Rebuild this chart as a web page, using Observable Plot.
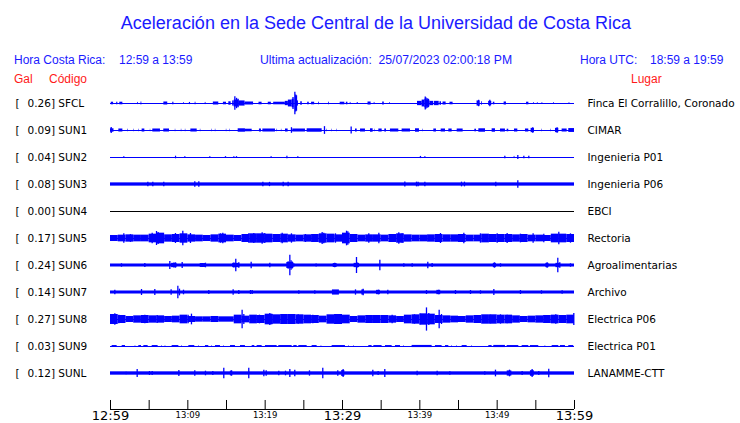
<!DOCTYPE html>
<html><head><meta charset="utf-8">
<script src="https://cdn.jsdelivr.net/npm/d3@7"></script>
<script src="https://cdn.jsdelivr.net/npm/@observablehq/plot@0.6"></script>
<style>
html,body{margin:0;padding:0;background:#fff}
#wrap{position:relative;width:740px;height:423px;overflow:hidden}
#wrap svg{position:absolute;left:0;top:0}
.t{position:absolute;white-space:pre;font-family:"Liberation Sans",Arial,sans-serif;color:#1a1aff;line-height:1}
.r{color:#ff1a1a}
</style></head><body>
<div id="wrap"></div>
<script>
// ---------- texts ----------
const title = "Aceleración en la Sede Central de la Universidad de Costa Rica";
const headerLeft = ["Hora Costa Rica:", "12:59 a 13:59"];
const headerMid = "Ultima actualización:  25/07/2023 02:00:18 PM";
const headerRight = ["Hora UTC:", "18:59 a 19:59"];
const colHeads = ["Gal", "Código", "Lugar"];

// ---------- stations ----------
const stations = ["SFCL","SUN1","SUN2","SUN3","SUN4","SUN5","SUN6","SUN7","SUN8","SUN9","SUNL"];
const peaks = [0.26,0.09,0.04,0.08,0.00,0.17,0.24,0.14,0.27,0.03,0.12];
const places = ["Finca El Corralillo, Coronado","CIMAR","Ingenieria P01","Ingenieria P06","EBCI","Rectoria","Agroalimentarias","Archivo","Electrica P06","Electrica P01","LANAMME-CTT"];
// continuous background half-amplitude (Gal)
const baseAmp = [0,0,0,0.038,0,0,0.035,0.035,0,0,0.039];

// ---------- time axis (minutes after 12:59) ----------
const tickMinutes = [0,5,10,15,20,25,30,35,40,45,50,55,60];
const bigTickAt = [0,30,60];
const bigTickLabels = ["12:59","13:29","13:59"];
const smallTickAt = [10,20,40,50];
const smallTickLabels = ["13:09","13:19","13:39","13:49"];

// ---------- traces: blips [start, end, Gal], spikes [minute, Gal], envelopes per minute (Gal) ----------
const sfclBlips = [[0.1,0.4,0.03],[0.8,0.95,0.03],[1.2,1.6,0.03],[3.5,3.6,0.025],[3.95,4.05,0.035],[6.9,7.4,0.035],[8.05,8.2,0.03],[9.45,9.55,0.02],[10.2,10.35,0.025],[10.95,11.05,0.03],[12.25,12.35,0.025],[13.3,14.0,0.035],[14.6,15.0,0.03],[15.3,15.6,0.04],[15.8,16.0,0.06],[16.0,16.6,0.08],[16.6,17.4,0.06],[17.4,18.5,0.035],[19.2,19.6,0.03],[20.4,20.8,0.03],[21.1,22.6,0.03],[22.6,23.0,0.05],[23.0,23.5,0.08],[23.5,23.75,0.1],[23.9,24.1,0.15],[24.1,24.3,0.06],[24.6,24.8,0.04],[25.5,25.7,0.03],[26.0,26.4,0.03],[26.9,27.0,0.03],[28.2,28.3,0.03],[29.7,30.3,0.03],[30.5,30.7,0.03],[31.0,31.1,0.025],[31.9,32.05,0.02],[33.3,33.7,0.035],[34.1,34.2,0.025],[35.2,35.4,0.035],[36.1,36.2,0.02],[39.7,40.3,0.05],[40.3,40.65,0.08],[40.65,40.85,0.1],[40.85,41.3,0.08],[41.3,41.8,0.05],[41.9,42.5,0.05],[42.6,42.8,0.04],[43.0,43.4,0.035],[43.9,44.3,0.03],[47.4,47.8,0.06],[48.0,48.1,0.04],[48.9,49.3,0.05],[49.5,49.7,0.03],[50.9,51.2,0.035],[53.8,54.1,0.03],[54.7,54.8,0.02],[55.2,55.3,0.02],[55.8,55.9,0.02],[57.3,57.4,0.02],[59.3,59.4,0.02]];
const sfclSpikes = [[16.08,0.155],[16.3,0.12],[16.5,0.1],[23.6,0.14],[23.84,0.26],[23.95,0.2],[24.05,0.18],[40.7,0.15],[40.8,0.13],[40.95,0.11],[41.1,0.1],[47.6,0.075],[49.05,0.075]];

const sun1Blips = [[0.0,0.45,0.04],[1.08,1.6,0.035],[2.25,2.32,0.03],[3.0,3.06,0.03],[3.64,3.7,0.03],[4.09,4.44,0.035],[5.15,5.2,0.03],[5.47,6.46,0.035],[6.89,7.63,0.035],[8.38,8.44,0.03],[9.16,9.22,0.03],[9.68,9.74,0.03],[10.39,11.21,0.035],[11.62,11.68,0.03],[13.13,13.19,0.03],[13.56,13.62,0.03],[14.98,15.04,0.03],[15.41,15.47,0.03],[16.51,17.45,0.04],[17.45,18.32,0.03],[19.26,19.52,0.035],[19.7,21.33,0.035],[21.53,21.6,0.03],[22.1,22.16,0.03],[22.63,22.97,0.035],[23.57,25.21,0.035],[25.43,27.37,0.04],[28.0,28.06,0.03],[28.64,28.7,0.03],[29.28,29.34,0.03],[31.68,31.9,0.035],[32.33,32.97,0.035],[33.62,33.96,0.04],[34.2,34.26,0.03],[34.7,35.13,0.035],[35.47,35.69,0.035],[36.2,37.28,0.035],[37.71,38.79,0.035],[39.44,39.95,0.04],[40.41,40.47,0.03],[41.81,42.15,0.035],[42.76,43.32,0.035],[43.75,44.18,0.035],[44.83,45.6,0.035],[47.11,47.33,0.03],[47.63,48.49,0.04],[49.35,49.78,0.04],[50.43,51.07,0.035],[51.29,51.5,0.03],[52.24,52.67,0.035],[53.66,54.09,0.035],[54.39,54.82,0.05],[55.78,55.84,0.03],[56.96,57.02,0.03],[57.54,57.97,0.05],[58.4,59.05,0.035],[59.26,60.0,0.045]];
const sun1Spikes = [[0.09,0.07],[23.4,0.065],[27.67,0.09],[31.12,0.08],[54.6,0.065],[57.75,0.065]];

const sun2Blips = [[8.4,8.55,0.03],[22.8,22.95,0.03],[52.2,52.3,0.025]];
const sun2Spikes = [[1.72,0.02],[9.61,0.02],[12.84,0.02],[14.87,0.02],[15.95,0.02],[16.29,0.02],[20.77,0.02],[24.22,0.02],[40.08,0.025],[40.65,0.02],[50.99,0.03],[52.67,0.045],[53.45,0.03],[54.09,0.03]];

const sun3Spikes = [[4.83,0.05],[5.47,0.05],[6.89,0.05],[10.9,0.065],[11.42,0.065],[19.7,0.05],[20.56,0.05],[22.33,0.05],[22.97,0.05],[38.06,0.06],[39.57,0.055],[39.78,0.055],[40.65,0.05],[45.39,0.055],[45.77,0.055],[49.82,0.055],[52.67,0.09]];

const sun5Envelope = [.07,.078,.085,.078,.078,.101,.124,.085,.093,.109,.085,.078,.07,.085,.101,.078,.07,.093,.109,.109,.101,.093,.101,.085,.078,.085,.093,.109,.101,.085,
  .124,.093,.078,.085,.085,.078,.093,.109,.085,.078,.078,.085,.093,.085,.085,.093,.078,.078,.101,.093,.093,.093,.085,.093,.078,.078,.07,.101,.101,.093];
const sun5Spikes = [[1.72,.109],[2.58,.09],[5.39,.124],[5.95,.163],[6.16,.14],[8.4,.116],[9.35,.17],[10.34,.116],[14.22,.109],[14.52,.124],[17.88,.109],[18.53,.116],[19.61,.132],[19.95,.116],[22.2,.124],[23.4,.109],[25.21,.093],[27.37,.14],[27.58,.124],[29.09,.109],[30.52,.17],[30.69,.155],[33.4,.109],[34.7,.124],[37.28,.132],[37.71,.109],[42.67,.116],[45.69,.124],[47.84,.109],[50.0,.109],[51.29,.116],[53.01,.101],[54.65,.109],[56.03,.101],[57.97,.147],[59.48,.109]];

const sun6Blips = [[7.9,8.6,0.05],[11.6,12.4,0.045],[15.8,16.7,0.05],[22.8,23.7,0.07],[28.8,29.3,0.045],[31.5,32.2,0.05],[49.5,49.9,0.05],[56.3,56.7,0.05],[57.6,58.2,0.05]];
const sun6Spikes = [[1.42,.04],[4.44,.047],[7.67,.093],[8.2,.06],[8.4,.062],[9.27,.07],[11.85,.047],[12.28,.054],[15.95,.06],[16.2,.147],[16.59,.062],[18.19,.078],[20.6,.054],[22.97,.09],[23.19,.24],[23.35,.11],[23.49,.08],[23.7,.04],[26.59,.035],[29.0,.054],[31.81,.186],[31.9,.06],[34.83,.124],[37.93,.04],[39.01,.04],[41.03,.078],[41.59,.047],[49.65,.062],[50.43,.04],[56.46,.062],[57.84,.17],[58.1,.062],[59.48,.04]];

const sun7Blips = [[28.7,29.6,0.06],[32.5,32.8,0.06],[34.4,34.9,0.05],[42.2,42.7,0.05]];
const sun7Spikes = [[0.56,.054],[4.01,.07],[5.73,.07],[7.84,.062],[8.71,.147],[8.92,.078],[9.44,.054],[12.71,.047],[15.86,.062],[16.59,.047],[18.1,.047],[18.32,.047],[24.35,.04],[26.42,.04],[31.68,.062],[32.67,.078],[34.65,.054],[35.86,.054],[40.86,.047],[42.45,.054],[44.61,.047],[46.55,.047],[47.84,.04],[49.57,.07],[53.01,.047],[55.73,.04],[58.4,.04]];

const sun8Envelope = [.116,.093,.07,.085,.093,.085,.085,.07,.078,.101,.07,.062,.062,.07,.062,.062,.101,.078,.101,.093,.124,.109,.116,.116,.109,.101,.093,.078,.109,.116,
  .101,.07,.085,.093,.093,.093,.085,.07,.101,.109,.132,.124,.093,.085,.078,.07,.085,.093,.109,.109,.101,.101,.085,.07,.078,.085,.093,.101,.093,.101];
const sun8Spikes = [[0.56,.132],[1.08,.101],[4.44,.101],[6.03,.093],[10.04,.101],[10.47,.124],[17.02,.217],[17.24,.116],[19.26,.101],[20.6,.14],[20.9,.116],[22.2,.109],[24.27,.109],[25.43,.093],[26.16,.101],[29.0,.116],[29.74,.109],[30.52,.093],[36.42,.101],[39.31,.109],[40.08,.124],[40.86,.27],[41.16,.14],[42.5,.217],[42.8,.116],[49.14,.101],[50.43,.109],[51.29,.101],[57.58,.109],[59.91,.14]];

const sun9Blips = [[0.21,0.86,.022],[1.51,1.94,.022],[3.2,3.26,.022],[3.66,4.01,.022],[4.31,4.87,.022],[5.39,6.16,.022],[6.65,6.71,.022],[7.08,7.14,.022],[7.97,8.84,.022],[9.24,9.3,.022],[10.13,10.9,.022],[11.39,11.45,.022],[12.28,12.71,.022],[13.12,13.18,.022],[13.58,14.22,.022],[14.62,14.68,.022],[15.52,16.16,.022],[16.81,17.45,.022],[18.32,18.66,.022],[18.96,19.61,.022],[20.04,21.55,.022],[21.76,23.49,.022],[23.7,24.14,.022],[24.35,25.43,.022],[26.07,26.72,.022],[27.25,27.31,.022],[28.66,30.38,.022],[30.79,30.85,.022],[31.43,31.49,.022],[33.4,33.83,.022],[34.05,35.12,.022],[35.56,36.42,.022],[36.85,37.5,.022],[37.9,37.96,.022],[39.0,41.59,.025],[42.02,42.88,.022],[43.32,43.75,.022],[44.15,44.21,.022],[44.79,44.85,.022],[45.47,46.12,.022],[46.73,46.79,.022],[48.92,49.35,.022],[49.56,51.07,.025],[51.29,52.8,.022],[53.23,54.09,.022],[54.3,55.38,.022],[56.21,56.27,.022],[57.11,57.97,.022],[58.18,58.83,.022],[59.26,59.9,.022]];

const sunlBlips = [[15.5,15.8,0.055],[29.9,30.3,0.07],[51.3,51.9,0.06],[54.3,54.8,0.065]];
const sunlSpikes = [[2.02,.03],[3.45,.093],[5.04,.047],[5.39,.047],[8.84,.07],[10.9,.062],[12.28,.054],[13.23,.047],[14.65,.12],[15.65,.062],[17.88,.12],[19.83,.078],[20.13,.062],[21.76,.054],[22.63,.054],[23.19,.093],[23.83,.078],[25.73,.062],[27.45,.12],[29.39,.062],[30.08,.093],[33.92,.078],[34.61,.047],[35.47,.093],[39.65,.054],[42.24,.054],[43.88,.04],[48.4,.04],[49.78,.078],[51.59,.078],[53.23,.047],[54.52,.093],[55.38,.047],[56.67,.1]];

// ---------- assemble ----------
const blue = "#0000ff";
const G = 43 / 27;           // row-heights per Gal
const blipSets = {SFCL: sfclBlips, SUN1: sun1Blips, SUN2: sun2Blips, SUN6: sun6Blips, SUN7: sun7Blips, SUN9: sun9Blips, SUNL: sunlBlips};
const spikeSets = {SFCL: sfclSpikes, SUN1: sun1Spikes, SUN2: sun2Spikes, SUN3: sun3Spikes, SUN5: sun5Spikes, SUN6: sun6Spikes, SUN7: sun7Spikes, SUN8: sun8Spikes, SUNL: sunlSpikes};
const envSets = {SUN5: sun5Envelope, SUN8: sun8Envelope};

const rows = stations.map((code, i) => ({i, code, peak: peaks[i], place: places[i], base: baseAmp[i]}));
const blips = [], spikes = [], env = [];
rows.forEach(r => {
  (blipSets[r.code] || []).forEach(([s, e, a]) => blips.push({i: r.i, s, e, a}));
  (spikeSets[r.code] || []).forEach(([t, a]) => spikes.push({i: r.i, t, a}));
  (envSets[r.code] || []).forEach((a, m) => env.push({i: r.i, m, a}));
});
const lo = d => d.i - d.a * G, hi = d => d.i + d.a * G;
const bigTicks = bigTickAt.map((m, k) => ({m, label: bigTickLabels[k]}));
const smallTicks = smallTickAt.map((m, k) => ({m, label: smallTickLabels[k]}));
const axisRow = 11.333, tickTop = 11.0;

const chart = Plot.plot({
  width: 740, height: 423,
  marginLeft: 110, marginRight: 166, marginTop: 0, marginBottom: 0,
  x: {domain: [0, 60], axis: null},
  y: {domain: [-3.815, 11.852], reverse: true, axis: null},
  style: {fontFamily: "'DejaVu Sans', sans-serif", fontSize: "10.5px", background: "transparent", overflow: "visible"},
  marks: [
    Plot.ruleY(rows.filter(r => r.code !== "SUN4"), {y: "i", x1: 0, x2: 60, stroke: blue, strokeWidth: 1}),
    Plot.ruleY(rows.filter(r => r.code === "SUN4"), {y: "i", x1: 0, x2: 60, stroke: "#000", strokeWidth: 1}),
    Plot.rect(rows.filter(r => r.base > 0), {x1: 0, x2: 60, y1: d => d.i - d.base * G, y2: d => d.i + d.base * G, fill: blue}),
    Plot.rect(env, {x1: "m", x2: d => d.m + 1, y1: lo, y2: hi, fill: blue}),
    Plot.rect(blips, {x1: "s", x2: "e", y1: lo, y2: hi, fill: blue}),
    Plot.ruleX(spikes, {x: "t", y1: lo, y2: hi, stroke: blue, strokeWidth: 1.3}),
    // left labels
    Plot.text(rows, {y: "i", text: () => "[", frameAnchor: "left", dx: -95, textAnchor: "start", fill: "#000"}),
    Plot.text(rows, {y: "i", text: d => d.peak.toFixed(2) + "] " + d.code, frameAnchor: "left", dx: -83, textAnchor: "start", fill: "#000"}),
    // right labels
    Plot.text(rows, {y: "i", text: "place", frameAnchor: "right", dx: 13, textAnchor: "start", fill: "#000"}),
    // time axis
    Plot.ruleY([axisRow], {x1: 0, x2: 60, y: d => d, stroke: "#000", strokeWidth: 1}),
    Plot.ruleX(tickMinutes, {x: d => d, y1: tickTop, y2: axisRow, stroke: "#000", strokeWidth: 1}),
    Plot.text(bigTicks, {x: "m", y: 11.56, text: "label", fontSize: 13, fill: "#000"}),
    Plot.text(smallTicks, {x: "m", y: 11.55, text: "label", fontSize: 8.5, fill: "#000"})
  ]
});
const wrap = document.getElementById("wrap");
wrap.appendChild(chart);

function addText(txt, left, top, size, cls, center) {
  const d = document.createElement("div");
  d.className = "t" + (cls ? " " + cls : "");
  d.textContent = txt;
  d.style.top = top + "px";
  d.style.fontSize = size + "px";
  if (center) { d.style.left = "0"; d.style.width = (2 * left) + "px"; d.style.textAlign = "center"; }
  else d.style.left = left + "px";
  wrap.appendChild(d);
}
addText(title, 376, 14, 18, "", true);
addText(headerLeft[0], 14, 54, 12);
addText(headerLeft[1], 119, 54, 12);
addText(headerMid, 260, 54, 12.2);
addText(headerRight[0], 580, 54, 12);
addText(headerRight[1], 650, 54, 12);
addText(colHeads[0], 14, 73, 12, "r");
addText(colHeads[1], 49, 73, 12, "r");
addText(colHeads[2], 631, 73, 12, "r");
</script>
</body></html>
